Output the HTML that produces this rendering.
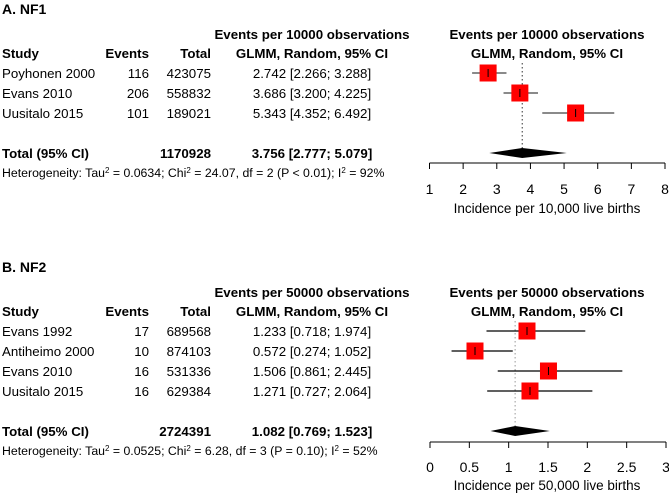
<!DOCTYPE html>
<html><head><meta charset="utf-8"><style>
body{margin:0;background:#fff}
svg{display:block;font-family:"Liberation Sans",Arial,sans-serif}
</style></head><body>
<svg id="c" width="669" height="493" xmlns="http://www.w3.org/2000/svg"></svg>
<script>
const nf1Studies=["Poyhonen 2000","Evans  2010","Uusitalo 2015"];
const nf1Events=[116,206,101];
const nf1Totals=[423075,558832,189021];
const nf1Est=[2.742,3.686,5.343];
const nf1Lo=[2.266,3.200,4.352];
const nf1Hi=[3.288,4.225,6.492];
const nf1Pooled=[3.756,2.777,5.079];
const nf1Ticks=[1,2,3,4,5,6,7,8];
const nf2Studies=["Evans 1992","Antiheimo 2000","Evans 2010","Uusitalo 2015"];
const nf2Events=[17,10,16,16];
const nf2Totals=[689568,874103,531336,629384];
const nf2Est=[1.233,0.572,1.506,1.271];
const nf2Lo=[0.718,0.274,0.861,0.727];
const nf2Hi=[1.974,1.052,2.445,2.064];
const nf2Pooled=[1.082,0.769,1.523];
const nf2Ticks=[0,0.5,1,1.5,2,2.5,3];
const svg=document.getElementById('c');const NS="http://www.w3.org/2000/svg";
function el(t,a,txt){const e=document.createElementNS(NS,t);for(const k in a)e.setAttribute(k,a[k]);if(txt!=null)e.textContent=txt;svg.appendChild(e);return e;}
function tx(x,y,s,opt){opt=opt||{};const e=el('text',{x:x,y:y,'font-size':opt.fs||13.3,'text-anchor':opt.a||'start','font-weight':opt.b?'bold':'normal',fill:'#000'},s);

return e;}
function panel(o){
 const y0=o.y0;const x=v=>o.x0+(v-o.tmin)*(o.x1-o.x0)/(o.tmax-o.tmin);
 tx(2,o.ty,o.title,{b:1,fs:14,n:'panel-title'});
 tx(312,y0+5,o.hdr,{b:1,a:'middle',n:'estimate-header'});
 tx(547,y0+5,o.hdr,{b:1,a:'middle',n:'plot-header'});
 tx(2,y0+24,'Study',{b:1,n:'study-header'});
 tx(149,y0+24,'Events',{b:1,a:'end',n:'events-header'});
 tx(211,y0+24,'Total',{b:1,a:'end',n:'total-header'});
 tx(312,y0+24,'GLMM, Random, 95% CI',{b:1,a:'middle',n:'method-header'});
 tx(547,y0+24,'GLMM, Random, 95% CI',{b:1,a:'middle',n:'plot-method-header'});
 const n=o.st.length;const totY=y0+44+20*n+20;
 const dl=el('line',{x1:x(o.pool[0]),x2:x(o.pool[0]),y1:y0+29,y2:totY-8,stroke:o.dcol,'stroke-dasharray':'1.5,2.5'});
 
 for(let i=0;i<n;i++){const yy=y0+44+20*i;
  tx(2,yy,o.st[i],{n:'study-name'});tx(149,yy,o.ev[i],{a:'end',n:'events-value'});tx(211,yy,o.tot[i],{a:'end',n:'total-value'});
  tx(312,yy,o.est[i].toFixed(3)+' ['+o.lo[i].toFixed(3)+'; '+o.hi[i].toFixed(3)+']',{a:'middle',n:'estimate-ci'});
  const cy=yy-5;
  const ln=el('line',{x1:x(o.lo[i]),x2:x(o.hi[i]),y1:cy,y2:cy,stroke:o.ccol,'stroke-width':1.2});
  
  const sq=el('rect',{x:x(o.est[i])-8.5,y:cy-8.5,width:17,height:17,fill:'#f00'});
  
  const tk=el('line',{x1:x(o.est[i]),x2:x(o.est[i]),y1:cy-4,y2:cy+4,stroke:'#000'});
  
 }
 tx(2,totY,'Total (95% CI)',{b:1,n:'total-label'});tx(211,totY,o.sum,{b:1,a:'end',n:'total-sum'});
 tx(312,totY,o.pool[0].toFixed(3)+' ['+o.pool[1].toFixed(3)+'; '+o.pool[2].toFixed(3)+']',{b:1,a:'middle',n:'pooled-estimate'});
 const cy=totY-5;
 const d=el('polygon',{points:`${x(o.pool[1])},${cy} ${x(o.pool[0])},${cy-5} ${x(o.pool[2])},${cy} ${x(o.pool[0])},${cy+5}`,fill:'#000'});
 
 const h=tx(2,totY+19,'',{fs:12.3,n:'heterogeneity'});
 h.innerHTML=o.het;
 const ay=totY+o.axo;
 const ax=el('line',{x1:x(o.tmin),x2:x(o.tmax),y1:ay,y2:ay,stroke:'#000'});
 
 o.ticks.forEach(t=>{const l=el('line',{x1:x(t),x2:x(t),y1:ay,y2:ay+6,stroke:'#000'});
  
  tx(x(t),ay+o.tlo,String(t),{a:'middle',fs:14,n:'x-tick-label'});});
 tx(547,ay+o.tto,o.axt,{a:'middle',fs:13.5,n:'x-axis-title'});
}
panel({y0:34,ty:14,axo:5,tlo:31,tto:50,title:'A. NF1',hdr:'Events per 10000 observations',st:nf1Studies,ev:nf1Events,tot:nf1Totals,est:nf1Est,lo:nf1Lo,hi:nf1Hi,pool:nf1Pooled,sum:'1170928',ticks:nf1Ticks,tmin:1,tmax:8,x0:429.5,x1:665,dcol:'#333',ccol:'#444',axt:'Incidence per 10,000 live births',
 het:'Heterogeneity: Tau<tspan dy="-4" font-size="8">2</tspan><tspan dy="4"> = 0.0634; Chi</tspan><tspan dy="-4" font-size="8">2</tspan><tspan dy="4"> = 24.07, df = 2 (P &lt; 0.01); I</tspan><tspan dy="-4" font-size="8">2</tspan><tspan dy="4"> = 92%</tspan>'});
panel({y0:292,ty:272,axo:6,tlo:30,tto:48,title:'B. NF2',hdr:'Events per 50000 observations',st:nf2Studies,ev:nf2Events,tot:nf2Totals,est:nf2Est,lo:nf2Lo,hi:nf2Hi,pool:nf2Pooled,sum:'2724391',ticks:nf2Ticks,tmin:0,tmax:3,x0:430,x1:666,dcol:'#999',ccol:'#000',axt:'Incidence per 50,000 live births',
 het:'Heterogeneity: Tau<tspan dy="-4" font-size="8">2</tspan><tspan dy="4"> = 0.0525; Chi</tspan><tspan dy="-4" font-size="8">2</tspan><tspan dy="4"> = 6.28, df = 3 (P = 0.10); I</tspan><tspan dy="-4" font-size="8">2</tspan><tspan dy="4"> = 52%</tspan>'});
</script>
</body></html>
